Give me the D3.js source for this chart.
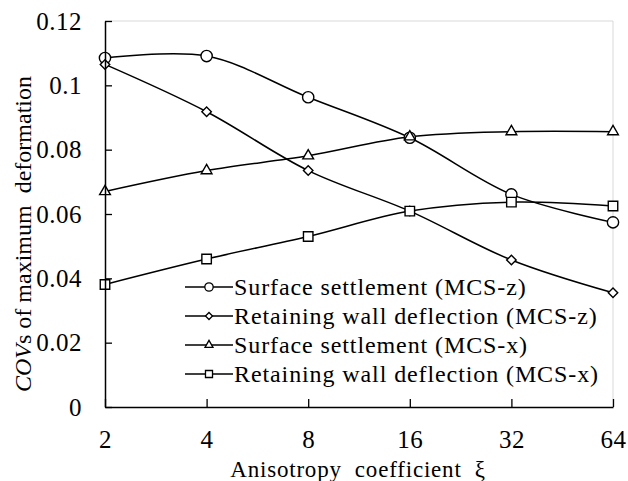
<!DOCTYPE html>
<html>
<head>
<meta charset="utf-8">
<script src="https://cdn.jsdelivr.net/npm/d3@7"></script>
<style>
  body { margin: 0; background: #fff; }
  text { font-family: "Liberation Serif", "Times New Roman", serif; fill: #000; }
</style>
</head>
<body>
<div id="container"></div>
<script>
const xLabels = ["2", "4", "8", "16", "32", "64"];
const yTicks = [0, 0.02, 0.04, 0.06, 0.08, 0.1, 0.12];
const settlementZ = [0.1085, 0.1091, 0.0963, 0.0837, 0.0661, 0.0574];
const wallZ = [0.1065, 0.0918, 0.0735, 0.0609, 0.0457, 0.0355];
const settlementX = [0.0670, 0.0735, 0.0781, 0.0840, 0.0856, 0.0856];
const wallX = [0.0381, 0.0460, 0.0530, 0.0609, 0.0637, 0.0625];
const seriesNames = [
    "Surface settlement (MCS-z)",
    "Retaining wall deflection (MCS-z)",
    "Surface settlement (MCS-x)",
    "Retaining wall deflection (MCS-x)"
];

const width = 628;
const height = 481;
const margin = { top: 21, right: 15, bottom: 74, left: 105 };

const svg = d3.select("#container").append("svg")
    .attr("width", width)
    .attr("height", height);

const x = d3.scalePoint()
    .domain(xLabels)
    .range([margin.left, width - margin.right])
    .padding(0);

const y = d3.scaleLinear()
    .domain([0, 0.12])
    .range([height - margin.bottom, margin.top]);

// plot area border (light grey top/right)
svg.append("path")
    .attr("d", `M${margin.left},${margin.top}H${width - margin.right}V${height - margin.bottom}`)
    .attr("fill", "none")
    .attr("stroke", "#d9d9d9")
    .attr("stroke-width", 1);

// markers
const markers = [
    { type: d3.symbolCircle, size: 100, rotate: 0 },
    { type: d3.symbolSquare, size: 45, rotate: 45 },
    { type: d3.symbolTriangle, size: 50, rotate: 0 },
    { type: d3.symbolSquare, size: 90, rotate: 0 }
];

const series = [settlementZ, wallZ, settlementX, wallX].map((values, i) => ({
    name: seriesNames[i],
    marker: markers[i],
    points: values.map((v, j) => ({ label: xLabels[j], value: v }))
}));

const line = d3.line()
    .x(d => x(d.label))
    .y(d => y(d.value))
    .curve(d3.curveCatmullRom.alpha(0.5));

series.forEach(s => {
    svg.append("path")
        .datum(s.points)
        .attr("fill", "none")
        .attr("stroke", "#000")
        .attr("stroke-width", 1.5)
        .attr("d", line);
});

series.forEach(s => {
    const sym = d3.symbol().type(s.marker.type).size(s.marker.size);
    svg.append("g").selectAll("path")
        .data(s.points)
        .join("path")
        .attr("transform", d => `translate(${x(d.label)},${y(d.value)}) rotate(${s.marker.rotate})`)
        .attr("d", sym)
        .attr("fill", "#fff")
        .attr("stroke", "#000")
        .attr("stroke-width", 1.4);
});

// axes
const xAxis = svg.append("g")
    .attr("transform", `translate(0,${height - margin.bottom})`)
    .call(d3.axisBottom(x).tickSize(-8).tickSizeOuter(0).tickPadding(23));
xAxis.select(".domain").attr("stroke-width", 1.5);
xAxis.selectAll(".tick line").attr("stroke-width", 1.3);
xAxis.selectAll(".tick text")
    .style("font-size", "25px")
    .style("letter-spacing", "0.5px")
    .style("font-family", "Liberation Serif, serif");

const yAxis = svg.append("g")
    .attr("transform", `translate(${margin.left},0)`)
    .call(d3.axisLeft(y).tickValues(yTicks).tickSize(-7).tickSizeOuter(0).tickPadding(23)
        .tickFormat(d => d === 0 ? "0" : String(+d.toFixed(2))));
yAxis.select(".domain").attr("stroke-width", 1.5);
yAxis.selectAll(".tick line").attr("stroke-width", 1.3);
yAxis.selectAll(".tick text")
    .style("font-size", "25px")
    .style("letter-spacing", "0.5px")
    .style("font-family", "Liberation Serif, serif");

// x axis title
svg.append("text")
    .attr("x", 358)
    .attr("y", 477)
    .attr("text-anchor", "middle")
    .style("font-size", "23px")
    .style("letter-spacing", "0.8px")
    .style("white-space", "pre")
    .text("Anisotropy  coefficient  ξ");

// y axis title
const yTitle = svg.append("text")
    .attr("transform", "translate(31,234) rotate(-90)")
    .attr("text-anchor", "middle")
    .style("font-size", "24px")
    .style("white-space", "pre");
yTitle.append("tspan").style("font-style", "italic").text("COV");
yTitle.append("tspan").text("s of maximum  deformation");

// legend
const legend = svg.append("g")
    .attr("transform", "translate(185,287)");

series.forEach((s, i) => {
    const row = legend.append("g").attr("transform", `translate(0,${i * 29})`);
    row.append("line")
        .attr("x1", 0).attr("x2", 48)
        .attr("stroke", "#000")
        .attr("stroke-width", 1.5);
    row.append("path")
        .attr("transform", `translate(24,0) rotate(${s.marker.rotate})`)
        .attr("d", d3.symbol().type(s.marker.type).size(s.marker.size * 0.55))
        .attr("fill", "#fff")
        .attr("stroke", "#000")
        .attr("stroke-width", 1.3);
    row.append("text")
        .attr("x", 49)
        .attr("dy", "0.33em")
        .style("font-size", "24px")
        .style("letter-spacing", "0.9px")
        .text(s.name);
});
</script>
</body>
</html>
